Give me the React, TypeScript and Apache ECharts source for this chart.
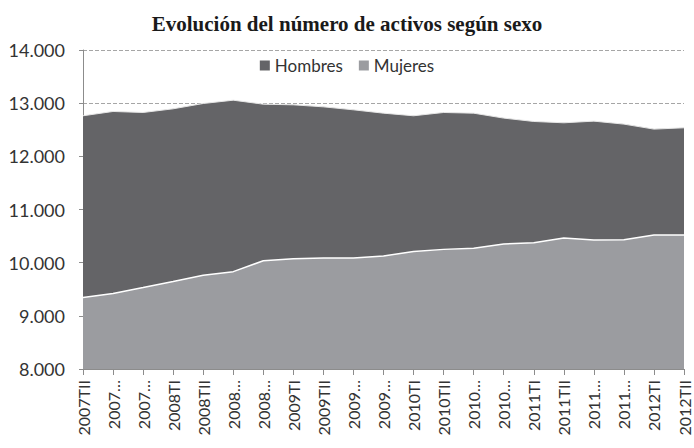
import React, { useEffect, useRef } from "react";
import * as echarts from "echarts";

const categories = [
  "2007TII", "2007TIII", "2007TIV", "2008TI", "2008TII", "2008TIII", "2008TIV",
  "2009TI", "2009TII", "2009TIII", "2009TIV", "2010TI", "2010TII", "2010TIII",
  "2010TIV", "2011TI", "2011TII", "2011TIII", "2011TIV", "2012TI", "2012TII",
];

const tickLabels = [
  "2007TII", "2007…", "2007…", "2008TI", "2008TII", "2008…", "2008…",
  "2009TI", "2009TII", "2009…", "2009…", "2010TI", "2010TII", "2010…",
  "2010…", "2011TI", "2011TII", "2011…", "2011…", "2012TI", "2012TII",
];

const hombres = [
  12763, 12844, 12825, 12894, 12994, 13056, 12981, 12969, 12931, 12875, 12812,
  12763, 12825, 12812, 12719, 12656, 12631, 12662, 12606, 12512, 12537,
];

const mujeres = [
  9344, 9419, 9531, 9644, 9763, 9831, 10037, 10075, 10087, 10087, 10125,
  10212, 10250, 10269, 10350, 10375, 10462, 10425, 10431, 10519, 10519,
];

const yMin = 8000;
const yMax = 14000;
const yStep = 1000;

const fmt = (v: number) => {
  const s = String(Math.round(v));
  return s.replace(/\B(?=(\d{3})+(?!\d))/g, ".");
};

export default function App() {
  const ref = useRef<HTMLDivElement>(null);
  useEffect(() => {
    document.body.style.margin = "0";
    const chart = echarts.init(ref.current!, null, { renderer: "svg" });
    const font = "Lato, 'Liberation Sans', sans-serif";
    chart.setOption({
      animation: false,
      backgroundColor: "#ffffff",
      title: {
        text: "Evolución del número de activos según sexo",
        left: "center",
        top: 8,
        textStyle: {
          fontFamily: "'Liberation Serif', 'Times New Roman', serif",
          fontWeight: "bold",
          fontSize: 21,
          color: "#1a1a1a",
        },
      },
      legend: {
        top: 52,
        left: "center",
        icon: "rect",
        itemWidth: 10,
        itemHeight: 10,
        itemGap: 16,
        textStyle: { fontFamily: font, fontSize: 17, color: "#333333" },
        data: ["Hombres", "Mujeres"],
      },
      grid: { left: 83, right: 10, top: 50, bottom: 79 },
      xAxis: {
        type: "category",
        data: categories,
        boundaryGap: false,
        axisLine: { lineStyle: { color: "#8c8c8c" } },
        axisTick: { alignWithLabel: true, length: 6, lineStyle: { color: "#8c8c8c" } },
        axisLabel: {
          interval: 0,
          rotate: 90,
          margin: 11,
          fontFamily: font,
          fontSize: 16,
          color: "#333333",
          formatter: (_v: string, i: number) => tickLabels[i],
        },
      },
      yAxis: {
        type: "value",
        min: yMin,
        max: yMax,
        interval: yStep,
        axisLine: { show: true, lineStyle: { color: "#8c8c8c" } },
        axisTick: { show: true, length: 4, lineStyle: { color: "#8c8c8c" } },
        axisLabel: {
          margin: 18,
          fontFamily: font,
          fontSize: 18,
          color: "#333333",
          formatter: (v: number) => fmt(v),
        },
        splitLine: { lineStyle: { color: "#a6a6a6", type: "dashed", width: 1 } },
      },
      series: [
        {
          name: "Hombres",
          type: "line",
          data: hombres,
          showSymbol: false,
          symbol: "none",
          itemStyle: { color: "#646467" },
          lineStyle: { color: "#e6e6e6", width: 1 },
          areaStyle: { color: "#646467", opacity: 1 },
        },
        {
          name: "Mujeres",
          type: "line",
          data: mujeres,
          showSymbol: false,
          symbol: "none",
          itemStyle: { color: "#9b9ca0" },
          lineStyle: { color: "#ffffff", width: 1.5 },
          areaStyle: { color: "#9b9ca0", opacity: 1 },
        },
      ],
    });
    return () => chart.dispose();
  }, []);
  return <div ref={ref} style={{ width: 694, height: 448 }} />;
}
